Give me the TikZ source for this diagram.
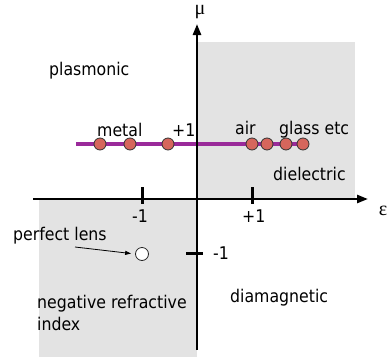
\documentclass[tikz,border=0pt]{standalone}
\usepackage{fontspec}
\setmainfont{DejaVu Sans Condensed}
\newfontfamily\greekserif{Liberation Serif}
\usetikzlibrary{arrows.meta}
\definecolor{regiongray}{HTML}{E3E3E3}
\definecolor{linepurple}{HTML}{9A2A9A}
\definecolor{dotred}{HTML}{D6665C}
\tikzset{
  lbl/.style={font=\fontsize{17.5}{20}\selectfont, inner sep=0pt, anchor=base west},
  axis/.style={line width=2.4pt, -{Triangle[length=11pt,width=8pt]}},
  tick/.style={line width=3pt},
  dot/.style={circle, draw=black!80, line width=0.8pt, fill=dotred, minimum size=12pt, inner sep=0pt},
}
\begin{document}
\begin{tikzpicture}[x=1pt,y=-1pt]
\useasboundingbox (0,0) rectangle (392,357);
% shaded regions
\fill[regiongray] (198,42) rectangle (355,199);
\fill[regiongray] (39,199) rectangle (197,357);
% purple line
\coordinate (pl) at (76,144);
\coordinate (pr) at (300,144);
\draw[linepurple, line width=4pt] (pl) -- (pr);
% axes
\coordinate (xs) at (33,199);
\coordinate (xe) at (368,199);
\coordinate (ys) at (197,350);
\coordinate (ye) at (197,24);
\draw[axis] (xs) -- (xe);
\draw[axis] (ys) -- (ye);
\node[font=\greekserif\fontsize{20}{22}\selectfont, inner sep=0pt] (mu) at (200,12) {μ};
\node[font=\greekserif\fontsize{20}{22}\selectfont, inner sep=0pt] (eps) at (383,211) {ε};
% ticks
\coordinate (t1a) at (142,187); \coordinate (t1b) at (142,204);
\coordinate (t2a) at (252,187); \coordinate (t2b) at (252,204);
\coordinate (t3a) at (186,253); \coordinate (t3b) at (203,253);
\draw[tick] (t1a) -- (t1b);
\draw[tick] (t2a) -- (t2b);
\draw[tick] (t3a) -- (t3b);
\node[lbl] (lm1) at (132,222) {-1};
\node[lbl] (lp1) at (242,222) {+1};
\node[lbl] (lmu) at (213,259) {-1};
% dots
\node[dot] (d1) at (100,144) {};
\node[dot] (d2) at (130,144) {};
\node[dot] (d3) at (168,144) {};
\node[dot] (d4) at (252,144) {};
\node[dot] (d5) at (267,144) {};
\node[dot] (d6) at (286,144) {};
\node[dot] (d7) at (303,144) {};
% labels
\node[lbl] (metal) at (97,136) {metal};
\node[lbl] (plus1) at (172,136) {+1};
\node[lbl] (air) at (235,134) {air};
\node[lbl] (glass) at (279,134) {glass etc};
\node[lbl] (plasm) at (49,75) {plasmonic};
\node[lbl] (diel) at (273,180) {dielectric};
\node[lbl] (diam) at (230,302) {diamagnetic};
\node[lbl] (neg) at (37,308) {negative refractive};
\node[lbl] (negb) at (37,330) {index};
\node[lbl] (perf) at (13,240) {perfect lens};
% perfect lens
\node[circle, draw=black!85, line width=0.8pt, fill=white, minimum size=13pt, inner sep=0pt] (lens) at (142,254) {};
\coordinate (arrstart) at (75,247);
\draw[line width=0.8pt, shorten >=4pt, -{Triangle[length=6pt,width=4pt]}] (arrstart) -- (lens.west);
\end{tikzpicture}
\end{document}
